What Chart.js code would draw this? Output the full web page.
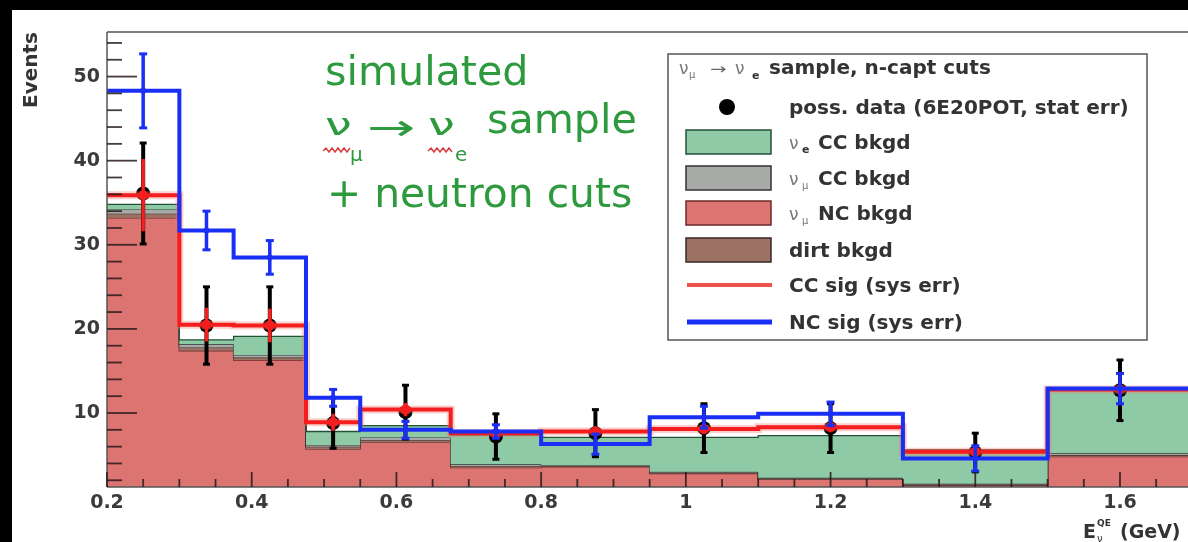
<!DOCTYPE html>
<html><head><meta charset="utf-8">
<script src="https://cdn.jsdelivr.net/npm/chart.js@4.4.1/dist/chart.umd.min.js"></script>
<style>html,body{margin:0;padding:0;background:#000;overflow:hidden}#c{position:absolute;left:0;top:0}</style>
</head><body><canvas id="c" width="1188" height="542"></canvas>
<script>
// ---- data ----
const binEdges   = [0.2,0.3,0.375,0.475,0.55,0.675,0.8,0.95,1.1,1.3,1.5,1.7];
const binCenters = [0.25,0.3375,0.425,0.5125,0.6125,0.7375,0.875,1.025,1.2,1.4,1.6];
const numuNC = [33.2,17.4,16.3,5.7,6.5,3.5,3.6,2.8,2.1,1.4,4.8];
const dirt   = [0.5,0.4,0.3,0.3,0.3,0.2,0.1,0.1,0.1,0.1,0.2];
const numuCC = [0.5,0.4,0.3,0.2,0.3,0.2,0.1,0.1,0.1,0.1,0.2];
const nueCC  = [0.6,0.5,2.2,1.6,1.4,3.5,3.3,4.1,5.0,4.0,7.6];
const dataVals = [36.1,20.4,20.4,8.8,10.1,7.2,7.6,8.2,8.2,5.3,12.7];
const dataErr  = [6.0,4.6,4.6,3.0,3.2,2.7,2.8,2.9,2.9,2.3,3.6];
const ccSig = [35.9,20.5,20.4,8.9,10.4,7.6,7.8,8.1,8.3,5.4,12.8];
const ccErr = [4.3,2.0,2.0,1.0,0.8,0.6,0.6,0.6,0.6,0.6,0.8];
const ncSig = [48.3,31.7,28.5,11.8,8.0,7.8,6.3,9.5,9.9,4.6,12.9];
const ncErr = [4.4,2.3,2.0,1.0,1.0,0.8,1.2,1.3,1.4,1.5,1.8];
const xTickLabels = ['0.2','0.4','0.6','0.8','1','1.2','1.4','1.6'];
const yTickLabels = ['10','20','30','40','50'];

// ---- helpers ----
const cum1 = numuNC.slice();
const cum2 = cum1.map((v,i)=>v+dirt[i]);
const cum3 = cum2.map((v,i)=>v+numuCC[i]);
const cum4 = cum3.map((v,i)=>v+nueCC[i]);
function hist(vals){ return binEdges.map((e,i)=>({x:e, y:vals[Math.min(i, vals.length-1)]})); }
function errPts(vals, errs){ const o=[]; binCenters.forEach((c,i)=>{ o.push({x:c,y:vals[i]-errs[i]},{x:c,y:vals[i]+errs[i]},{x:c,y:null}); }); return o; }
function pts(vals){ return binCenters.map((c,i)=>({x:c,y:vals[i]})); }
const H = {type:'line', stepped:true, pointRadius:0, tension:0, spanGaps:false, borderJoinStyle:'miter'};
const FONT = 'DejaVu Sans';

const decor = {
  id:'decor',
  beforeDraw(chart){
    const ctx = chart.ctx;
    ctx.save();
    ctx.fillStyle='#000'; ctx.fillRect(0,0,chart.width,chart.height);
    ctx.fillStyle='#fff'; ctx.fillRect(12,10,chart.width-12,chart.height-10);
    ctx.restore();
  },
  afterDatasetsDraw(chart){
    const {ctx, chartArea:a, scales:{x,y}} = chart;
    ctx.save();
    function seg(x0,y0,x1,y1){ ctx.beginPath(); ctx.moveTo(x0,y0); ctx.lineTo(x1,y1); ctx.stroke(); }
    // frame
    ctx.strokeStyle='#555'; ctx.lineWidth=1.5;
    seg(a.left,a.top,a.right,a.top);
    seg(a.left,a.top,a.left,a.bottom);
    seg(a.left,a.bottom,a.right,a.bottom);
    // ticks
    ctx.strokeStyle='rgba(40,25,25,0.85)'; ctx.lineWidth=1.8;
    for(let v=2; v<=54; v+=2){
      const p=y.getPixelForValue(v); const len=(v%10===0)?30:15;
      seg(a.left,p,a.left+len,p);
    }
    for(let k=4; k<=33; k++){
      const v=k*0.05; const p=x.getPixelForValue(v); if(p>a.right) break;
      const len=(k%4===0)?15:8;
      seg(p,a.bottom,p,a.bottom-len);
    }
    function T(s,px,py,font,color,sx){
      ctx.save(); ctx.font=font; ctx.fillStyle=color; ctx.textBaseline='alphabetic'; ctx.textAlign='left';
      ctx.translate(px,py); ctx.scale(sx||1,1); ctx.fillText(s,0,0); ctx.restore();
    }
    // y title
    ctx.save(); ctx.translate(37,32); ctx.rotate(-Math.PI/2);
    ctx.font='bold 20px '+FONT; ctx.fillStyle='#333'; ctx.textAlign='right'; ctx.textBaseline='alphabetic';
    ctx.fillText('Events',0,0); ctx.restore();
    // x title
    T('E',1083,538,'bold 19px '+FONT,'#333');
    T('QE',1097,526,'bold 9px '+FONT,'#333');
    T('ν',1097,542,'10px '+FONT,'#333');
    T('(GeV)',1120,538,'bold 19px '+FONT,'#333');
    // green annotation
    const G='#2d9a3e';
    T('simulated',325,85,'40px '+FONT,G,1.03);
    T('ν',325,135,'30px '+FONT,G,1.6);
    T('μ',350,161,'20px '+FONT,G);
    T('→',367,140,'36px '+FONT,G,1.6);
    T('ν',428,135,'30px '+FONT,G,1.6);
    T('e',455,161,'20px '+FONT,G);
    T('sample',487,133,'40px '+FONT,G,1.03);
    T('+ neutron cuts',327,207,'40px '+FONT,G,1.02);
    ctx.strokeStyle='#d83a3a'; ctx.lineWidth=1.4;
    [[323,350],[428,453]].forEach(([x0,x1])=>{
      ctx.beginPath(); let up=true; ctx.moveTo(x0,151);
      for(let xx=x0+3; xx<=x1; xx+=3){ ctx.lineTo(xx, up?148:152); up=!up; }
      ctx.stroke();
    });
    // legend
    ctx.fillStyle='#fff'; ctx.fillRect(668,54,479,286);
    ctx.strokeStyle='#555'; ctx.lineWidth=1.5; ctx.strokeRect(668,54,479,286);
    const LF='bold 20px '+FONT, LC='#333';
    T('ν',679,74,'17px '+FONT,'#777'); T('μ',689,78,'10px '+FONT,'#777');
    T('→',710,74,'15px '+FONT,'#666',1.3);
    T('ν',735,74,'17px '+FONT,'#777'); T('e',752,79,'bold 11px '+FONT,LC);
    T('sample, n-capt cuts',769,74,LF,LC);
    ctx.fillStyle='#000'; ctx.beginPath(); ctx.arc(727,107,8,0,Math.PI*2); ctx.fill();
    T('poss. data (6E20POT, stat err)',789,114,LF,LC);
    const sw=[[142,'#8ecaa6','#24503a'],[178,'#a8aaa8','#333'],[213,'#dc7472','#6e2a2a'],[250,'#9c7264','#3a2a25']];
    sw.forEach(([cy,f,b])=>{ ctx.fillStyle=f; ctx.fillRect(686,cy-12,85,24); ctx.strokeStyle=b; ctx.lineWidth=1.5; ctx.strokeRect(686,cy-12,85,24); });
    T('ν',789,149,'17px '+FONT,'#777'); T('e',802,153,'bold 11px '+FONT,LC); T('CC bkgd',818,149,LF,LC);
    T('ν',789,185,'17px '+FONT,'#777'); T('μ',802,189,'10px '+FONT,'#777'); T('CC bkgd',818,185,LF,LC);
    T('ν',789,220,'17px '+FONT,'#777'); T('μ',802,224,'10px '+FONT,'#777'); T('NC bkgd',818,220,LF,LC);
    T('dirt bkgd',789,257,LF,LC);
    ctx.strokeStyle='#ee5548'; ctx.lineWidth=4; seg(687,285,772,285);
    T('CC sig (sys err)',789,292,LF,LC);
    ctx.strokeStyle='#1a2ff5'; ctx.lineWidth=5; seg(687,322,772,322);
    T('NC sig (sys err)',789,329,LF,LC);
    ctx.restore();
  }
};

const tickFont = {family:FONT, weight:'bold', size:19};
new Chart(document.getElementById('c'), {
  type:'line',
  data:{datasets:[
    {...H, label:'νμ NC bkgd', data:hist(cum1), backgroundColor:'#dc7472', borderColor:'#6e2a2a', borderWidth:1.3, fill:'origin', order:20},
    {...H, label:'dirt bkgd', data:hist(cum2), backgroundColor:'#9c7264', borderColor:'#3a2a25', borderWidth:1.3, fill:0, order:19},
    {...H, label:'νμ CC bkgd', data:hist(cum3), backgroundColor:'#a8aaa8', borderColor:'#333', borderWidth:1.3, fill:1, order:18},
    {...H, label:'νe CC bkgd', data:hist(cum4), backgroundColor:'#8ecaa6', borderColor:'#24503a', borderWidth:1.3, fill:2, order:17},
    {type:'line', label:'data err', data:errPts(dataVals,dataErr), borderColor:'#000', borderWidth:4, pointStyle:'line', pointRadius:3.5, pointBorderWidth:3, pointBorderColor:'#000', spanGaps:false, fill:false, order:12},
    {type:'line', label:'poss. data', data:pts(dataVals), showLine:false, pointRadius:7, pointBackgroundColor:'#000', pointBorderColor:'#000', pointBorderWidth:0, order:11},
    {...H, label:'CC halo', data:hist(ccSig), borderColor:'rgba(240,120,110,0.35)', borderWidth:8, fill:false, order:9},
    {...H, label:'CC sig', data:hist(ccSig), borderColor:'#f41e1e', borderWidth:4, fill:false, order:8},
    {type:'line', label:'CC err', data:errPts(ccSig,ccErr), borderColor:'#f41e1e', borderWidth:3.5, pointRadius:0, spanGaps:false, fill:false, order:7},
    {type:'line', label:'CC pts', data:pts(ccSig), showLine:false, pointRadius:5, pointBackgroundColor:'#f41e1e', pointBorderWidth:0, order:6},
    {...H, label:'NC sig', data:hist(ncSig), borderColor:'#1a2ff5', borderWidth:4, fill:false, order:4},
    {type:'line', label:'NC err', data:errPts(ncSig,ncErr), borderColor:'#1a2ff5', borderWidth:3.5, pointStyle:'line', pointRadius:4, pointBorderWidth:3, pointBorderColor:'#1a2ff5', spanGaps:false, fill:false, order:3},
    {type:'line', label:'NC pts', data:pts(ncSig), showLine:false, pointRadius:3, pointBackgroundColor:'#1a2ff5', pointBorderWidth:0, order:2}
  ]},
  options:{
    responsive:false, animation:false, events:[],
    layout:{autoPadding:false, padding:{left:0,top:32,right:0,bottom:0}},
    plugins:{legend:{display:false}, tooltip:{enabled:false}},
    scales:{
      x:{type:'linear', min:0.2, max:1.694, afterFit(s){s.height=55; s.paddingLeft=0; s.paddingRight=0;},
         grid:{display:false, drawTicks:false}, border:{display:false},
         ticks:{stepSize:0.2, includeBounds:false, padding:5, font:tickFont, color:'#3a3a3a', maxRotation:0, autoSkip:false,
                callback:(v)=>{ const i=Math.round((v-0.2)/0.2); return xTickLabels[i] ?? ''; }}},
      y:{type:'linear', min:1.2, max:55.3, afterFit(s){s.width=107; s.paddingTop=0; s.paddingBottom=0;},
         grid:{display:false, drawTicks:false}, border:{display:false},
         ticks:{stepSize:10, includeBounds:false, padding:7, font:tickFont, color:'#3a3a3a',
                callback:(v)=>{ const i=Math.round(v/10)-1; return yTickLabels[i] ?? ''; }}}
    }
  },
  plugins:[decor]
});
</script></body></html>
